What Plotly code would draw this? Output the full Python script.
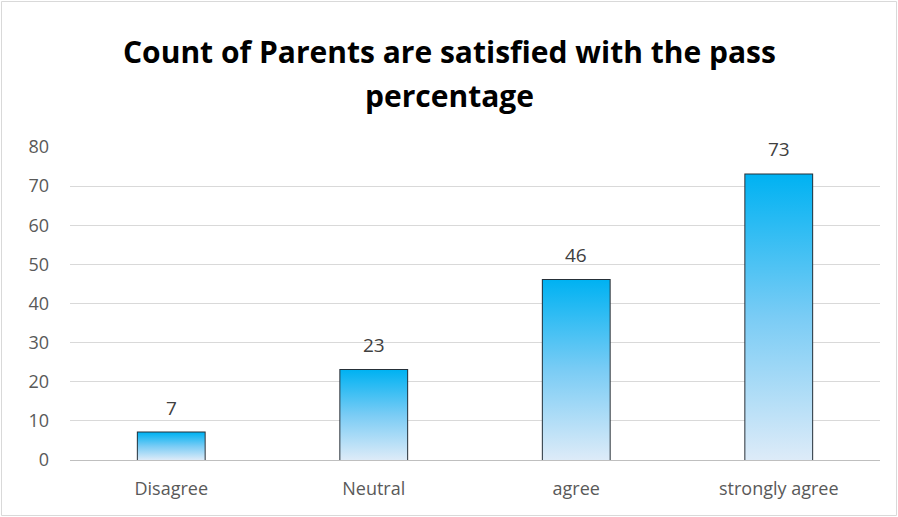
import plotly.graph_objects as go

categories = ["Disagree", "Neutral", "agree", "strongly agree"]
counts = [7, 23, 46, 73]
y_ticks = [0, 10, 20, 30, 40, 50, 60, 70, 80]
title_lines = ["Count of Parents are satisfied with the pass", "percentage"]

W, H = 898, 517
ml, mr, mt, mb = 70, 18, 147, 57
bar_w = 0.33
FONT = "Open Sans, Lato, sans-serif"

fig = go.Figure()

# gradient fills for each bar (scatter polygon with vertical fill gradient)
for i, v in enumerate(counts):
    x0, x1 = i - bar_w / 2, i + bar_w / 2
    fig.add_trace(go.Scatter(
        x=[x0, x1, x1, x0, x0], y=[0, 0, v, v, 0],
        mode="lines", fill="toself", line=dict(width=0),
        fillgradient=dict(type="vertical",
                          colorscale=[[0, "#DDEBF8"], [0.5, "#7ACCF5"], [1, "#00B2F2"]]),
        hoverinfo="skip", showlegend=False))

# outlined bars
fig.add_trace(go.Bar(
    x=list(range(len(categories))), y=counts, width=bar_w,
    marker=dict(color="rgba(0,0,0,0)", line=dict(color="#263038", width=2)),
    hoverinfo="skip", showlegend=False))

# data labels
for i, v in enumerate(counts):
    fig.add_annotation(x=i, y=v, text=str(v), showarrow=False, yanchor="middle",
                       yshift=25, font=dict(family=FONT, size=19, color="#404040"))

pw = W - ml - mr
ph = H - mt - mb

def py(px):
    return (H - mb - px) / ph

fig.update_layout(
    width=W, height=H,
    margin=dict(l=ml, r=mr, t=mt, b=mb),
    paper_bgcolor="white", plot_bgcolor="white",
    xaxis=dict(tickvals=list(range(len(categories))), ticktext=categories,
               range=[-0.5, len(categories) - 0.5], showgrid=False, zeroline=False,
               showline=False, ticks="",
               tickfont=dict(family=FONT, size=18, color="#595959"),
               ticklabelstandoff=16),
    yaxis=dict(range=[0, 80], tickvals=y_ticks, showgrid=True, gridcolor="#D9D9D9",
               gridwidth=1, zeroline=True, zerolinecolor="#BFBFBF", zerolinewidth=1,
               showline=False, ticks="",
               tickfont=dict(family=FONT, size=18, color="#595959"),
               ticklabelstandoff=20),
    font=dict(family=FONT),
)

for txt, ypx in zip(title_lines, [52, 95]):
    fig.add_annotation(text="<b>" + txt + "</b>", xref="paper", yref="paper",
                       x=(W / 2 - ml) / pw, y=py(ypx), xanchor="center", yanchor="middle",
                       showarrow=False,
                       font=dict(family=FONT, size=30, color="#000000"))

fig.add_shape(type="rect", xref="paper", yref="paper",
              x0=(1.5 - ml) / pw, x1=(W - 1.5 - ml) / pw,
              y0=py(H - 1.5), y1=py(1.5),
              line=dict(color="#D9D9D9", width=1), fillcolor="rgba(0,0,0,0)", layer="below")

fig.write_html("out.html", config={"displayModeBar": False},
               post_script="document.body.style.margin='0';document.body.style.overflow='hidden';")
